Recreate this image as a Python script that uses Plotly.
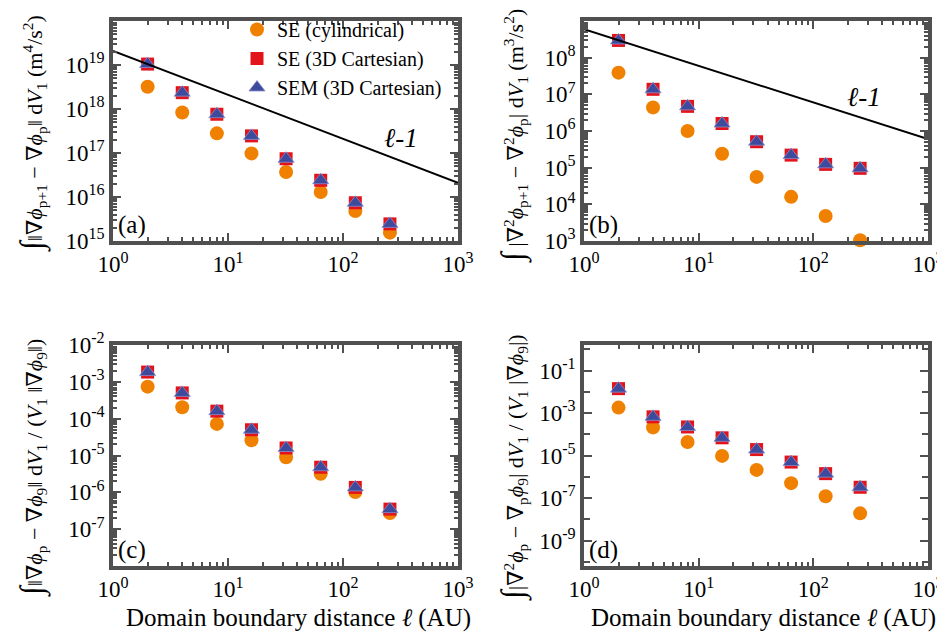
import plotly.graph_objects as go

# ---------------- data ----------------
L = [2, 4, 8, 16, 32, 64, 128, 256]

a_cyl = [3.2e18, 8.3e17, 2.8e17, 9.8e16, 3.7e16, 1.3e16, 4.8e15, 1.55e15]
a_cart = [1.05e19, 2.35e18, 7.6e17, 2.45e17, 7.4e16, 2.4e16, 7.4e15, 2.45e15]
a_sem = [1.05e19, 2.35e18, 7.6e17, 2.45e17, 7.4e16, 2.4e16, 7.4e15, 2.45e15]

b_cyl = [3.9e7, 4.4e6, 1.0e6, 2.4e5, 5.6e4, 1.6e4, 4.8e3, 1.05e3]
b_cart = [2.95e8, 1.37e7, 4.7e6, 1.6e6, 5.1e5, 2.2e5, 1.23e5, 9.6e4]
b_sem = [2.95e8, 1.37e7, 4.7e6, 1.6e6, 5.1e5, 2.2e5, 1.23e5, 9.6e4]

c_cyl = [7.4e-4, 2.05e-4, 7.2e-5, 2.6e-5, 8.9e-6, 3.2e-6, 1.02e-6, 2.75e-7]
c_cart = [1.84e-3, 5.0e-4, 1.6e-4, 5.0e-5, 1.6e-5, 4.8e-6, 1.36e-6, 3.5e-7]
c_sem = [1.84e-3, 5.0e-4, 1.6e-4, 5.0e-5, 1.6e-5, 4.8e-6, 1.36e-6, 3.5e-7]

d_cyl = [1.8e-3, 2.1e-4, 4.3e-5, 9.6e-6, 2.1e-6, 5.0e-7, 1.2e-7, 1.9e-8]
d_cart = [1.4e-2, 6.6e-4, 2.2e-4, 6.8e-5, 1.9e-5, 4.9e-6, 1.4e-6, 3.2e-7]
d_sem = [1.4e-2, 6.6e-4, 2.2e-4, 6.8e-5, 1.9e-5, 4.9e-6, 1.4e-6, 3.2e-7]

# reference slope lines (ell^-1)
ref_x = [1, 1000]
a_ref = [2.1e19, 2.1e16]
b_ref = [6.0e8, 6.0e5]

x_tickvals = [1, 10, 100, 1000]
x_ticktext = ["10<sup>0</sup>", "10<sup>1</sup>", "10<sup>2</sup>", "10<sup>3</sup>"]

a_exps = [15, 16, 17, 18, 19, 20]
b_exps = [3, 4, 5, 6, 7, 8, 9]
c_exps = [-7, -6, -5, -4, -3, -2]
d_exps = [-9, -7, -5, -3, -1]

series_names = ["SE (cylindrical)", "SE (3D Cartesian)", "SEM (3D Cartesian)"]

# ---------------- style ----------------
FONT = '"Liberation Serif", "Times New Roman", Times, "DejaVu Serif", serif'
ORANGE = "#F08000"
RED = "#E3131B"
BLUE = "#3E4A9C"
FRAME = "#505050"


def exp_text(e):
    return "10<sup>" + ("-" if e < 0 else "") + str(abs(e)) + "</sup>"


fig = go.Figure()

panels = [
    ("x", "y", a_cyl, a_cart, a_sem, True),
    ("x2", "y2", b_cyl, b_cart, b_sem, False),
    ("x3", "y3", c_cyl, c_cart, c_sem, False),
    ("x4", "y4", d_cyl, d_cart, d_sem, False),
]

for xa, ya, cyl, cart, sem, show in panels:
    fig.add_trace(go.Scatter(x=L, y=cyl, mode="markers", xaxis=xa, yaxis=ya,
                             name=series_names[0], showlegend=show, legendgroup="g1",
                             cliponaxis=False,
                             marker=dict(symbol="circle", size=14, color=ORANGE,
                                         line=dict(width=0))))
    fig.add_trace(go.Scatter(x=L, y=cart, mode="markers", xaxis=xa, yaxis=ya,
                             name=series_names[1], showlegend=show, legendgroup="g2",
                             cliponaxis=False,
                             marker=dict(symbol="square", size=13, color=RED,
                                         line=dict(width=0))))
    fig.add_trace(go.Scatter(x=L, y=sem, mode="markers", xaxis=xa, yaxis=ya,
                             name=series_names[2], showlegend=show, legendgroup="g3",
                             cliponaxis=False,
                             marker=dict(symbol="triangle-up", size=14, color=BLUE,
                                         line=dict(width=0.8, color="#8890d0"))))

fig.add_trace(go.Scatter(x=ref_x, y=a_ref, mode="lines", xaxis="x", yaxis="y",
                         showlegend=False, line=dict(color="black", width=2)))
fig.add_trace(go.Scatter(x=ref_x, y=b_ref, mode="lines", xaxis="x2", yaxis="y2",
                         showlegend=False, line=dict(color="black", width=2)))

W, H = 945, 637


def xdom(l, r):
    return [l / W, r / W]


def ydom(t, b):
    return [1 - b / H, 1 - t / H]


common = dict(type="log", showgrid=False, zeroline=False, showline=True,
              linecolor=FRAME, linewidth=3.5, mirror="allticks",
              ticks="inside", ticklen=8, tickwidth=2, tickcolor=FRAME,
              tickfont=dict(family=FONT, size=23, color="black"),
              automargin=False)

minor = dict(ticks="inside", ticklen=4, tickwidth=1.5, tickcolor=FRAME,
             dtick="D1", showgrid=False)

xcommon = dict(common, range=[0, 3], tickmode="array", tickvals=x_tickvals,
               ticktext=x_ticktext, minor=minor)

layout_axes = {
    "xaxis": dict(xcommon, domain=xdom(105, 450), anchor="y"),
    "yaxis": dict(common, domain=ydom(13, 233), anchor="x", range=[15, 20],
                  tickmode="array", tickvals=[10.0 ** e for e in a_exps],
                  ticktext=[exp_text(e) for e in a_exps], minor=minor),
    "xaxis2": dict(xcommon, domain=xdom(576, 920), anchor="y2"),
    "yaxis2": dict(common, domain=ydom(13, 233), anchor="x2", range=[3, 9],
                   tickmode="array", tickvals=[10.0 ** e for e in b_exps],
                   ticktext=[exp_text(e) for e in b_exps], minor=minor),
    "xaxis3": dict(xcommon, domain=xdom(105, 450), anchor="y3"),
    "yaxis3": dict(common, domain=ydom(337, 558), anchor="x3", range=[-8, -2],
                   tickmode="array", tickvals=[10.0 ** e for e in c_exps],
                   ticktext=[exp_text(e) for e in c_exps], minor=minor),
    "xaxis4": dict(xcommon, domain=xdom(576, 920), anchor="y4"),
    "yaxis4": dict(common, domain=ydom(337, 558), anchor="x4", range=[-10.2, 0.2],
                   tickmode="array", tickvals=[10.0 ** e for e in d_exps],
                   ticktext=[exp_text(e) for e in d_exps],
                   minor=dict(minor, dtick=1, ticklen=6)),
}

ann = []
# panel labels
for lab, xr, yr in [("(a)", "x", "y"), ("(b)", "x2", "y2"),
                    ("(c)", "x3", "y3"), ("(d)", "x4", "y4")]:
    ann.append(dict(text=lab, xref=xr + " domain", yref=yr + " domain",
                    x=0.008, y=0.0, xanchor="left", yanchor="bottom",
                    showarrow=False, font=dict(family=FONT, size=25, color="black")))

# ell^-1 labels
ann.append(dict(text="<i>ℓ-1</i>", xref="x domain", yref="y domain", x=0.89, y=0.47,
                showarrow=False, font=dict(family=FONT, size=27, color="black")))
ann.append(dict(text="<i>ℓ-1</i>", xref="x2 domain", yref="y2 domain", x=0.87, y=0.73,
                showarrow=False, font=dict(family=FONT, size=27, color="black")))

INT = "<span style='font-size:32px'>∫</span>"
ytitles = [
    (INT + "‖∇<i>ϕ</i><sub>p+1</sub> − ∇<i>ϕ</i><sub>p</sub>‖ d<i>V</i><sub>1</sub> (m<sup>4</sup>/s<sup>2</sup>)",
     24, 126),
    (INT + " |∇<sup>2</sup><i>ϕ</i><sub>p+1</sub> − ∇<sup>2</sup><i>ϕ</i><sub>p</sub>| d<i>V</i><sub>1</sub> (m<sup>3</sup>/s<sup>2</sup>)",
     505, 128),
    (INT + "‖∇<i>ϕ</i><sub>p</sub> − ∇<i>ϕ</i><sub>9</sub>‖ d<i>V</i><sub>1</sub> / (<i>V</i><sub>1</sub> ‖∇<i>ϕ</i><sub>9</sub>‖)",
     24, 460),
    (INT + "|∇<sup>2</sup><i>ϕ</i><sub>p</sub> − ∇<sub>p</sub><i>ϕ</i><sub>9</sub>| d<i>V</i><sub>1</sub> / (<i>V</i><sub>1</sub> |∇<i>ϕ</i><sub>9</sub>|)",
     505, 460),
]
for txt, px, py in ytitles:
    ann.append(dict(text=txt, xref="paper", yref="paper", x=px / W, y=1 - py / H,
                    xanchor="center", yanchor="middle", textangle=-90, showarrow=False,
                    font=dict(family=FONT, size=22, color="black")))

for cx in [290, 755]:
    ann.append(dict(text="Domain boundary distance <i>ℓ</i> (AU)", xref="paper", yref="paper",
                    x=cx / W, y=1 - 610 / H, xanchor="center", yanchor="middle",
                    showarrow=False, font=dict(family=FONT, size=25, color="black")))

fig.update_layout(
    width=W, height=H, template="none",
    margin=dict(l=0, r=0, t=0, b=0),
    paper_bgcolor="white", plot_bgcolor="white",
    font=dict(family=FONT, size=18, color="black"),
    showlegend=True,
    legend=dict(x=229 / W, y=1 - 2 / H, xanchor="left", yanchor="top",
                bgcolor="rgba(0,0,0,0)", borderwidth=0, tracegroupgap=0,
                font=dict(family=FONT, size=20, color="black")),
    annotations=ann,
    **layout_axes,
)

fig.write_html("out.html")
